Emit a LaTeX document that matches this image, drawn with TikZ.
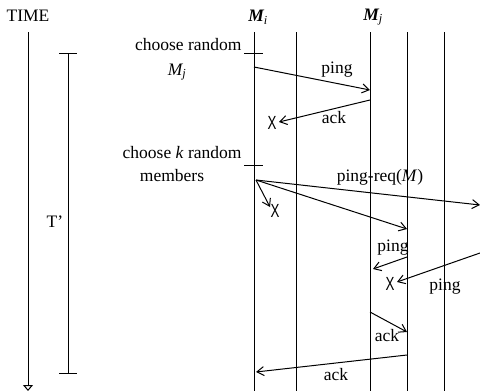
\documentclass[tikz,border=0pt]{standalone}
\usepackage{fontspec}
\setmainfont{Liberation Serif}
\newfontfamily\xfont[FakeStretch=0.7]{Liberation Sans}
\usetikzlibrary{arrows.meta}
\begin{document}
\begin{tikzpicture}[x=1pt,y=-1pt,line width=1pt,
  lbl/.style={font=\fontsize{17.5}{20}\selectfont,inner sep=0pt},
  msg/.style={-{Straight Barb[length=7pt,width=9pt]}},
  cross/.style={font=\fontsize{19}{20}\selectfont,inner sep=0pt},
  life/.style={line width=1pt}]
\useasboundingbox (0,0) rectangle (480,391);
% lifelines
\foreach \n/\x in {a/254,b/296,c/370,d/407,e/444}{
  \coordinate (\n top) at (\x,32);
  \coordinate (\n bot) at (\x,391);
  \draw[life] (\n top) -- (\n bot);
}
% time axis
\coordinate (ttop) at (28,32);
\coordinate (tbot) at (28,391);
\draw[-{Triangle[open,length=6pt,width=10pt]}] (ttop) -- (tbot);
\node[lbl] (time) at (28,16) {TIME};
% T' bracket
\coordinate (tp1) at (68,53);
\coordinate (tp2) at (68,373);
\draw (tp1) -- (tp2);
\draw (59,53) -- (77,53);
\draw (59,373) -- (77,373);
\node[lbl] (tprime) at (55,222) {T’};
% headers
\node[lbl] (mi) at (258,17) {{\bfseries\itshape M}\textsubscript{\itshape i}};
\node[lbl] (mj) at (373,17) {{\bfseries\itshape M}\textsubscript{\itshape j}};
% ticks on Mi
\draw (244,53) -- (263,53);
\draw (244,165) -- (263,165);
\node[lbl,anchor=east] (ch1) at (242,45) {choose random};
\node[lbl] (ch1b) at (177,72) {{\itshape M}\textsubscript{\itshape j}};
\node[lbl,anchor=east] (ch2) at (242,153) {choose \textit{k} random};
\node[lbl] (ch2b) at (172,176) {members};
% first probe
\coordinate (p1s) at (254,67);
\coordinate (p1e) at (370,90);
\draw[msg] (p1s) -- (p1e);
\node[lbl] (l1) at (337,70) {ping};
\coordinate (a1s) at (370,100);
\coordinate (a1e) at (279,122);
\draw[msg] (a1s) -- (a1e);
\node[cross] (x1) at (272,123) {\xfont X};
\node[lbl] (l2) at (334,118) {ack};
% ping-req
\coordinate (rs) at (256,180);
\coordinate (r1) at (270,207);
\coordinate (r2) at (480,205);
\coordinate (r3) at (407,229);
\draw[msg] (rs) -- (r1);
\node[cross] (x2) at (275,211) {\xfont X};
\draw[msg] (rs) -- (r2);
\draw[msg] (rs) -- (r3);
\node[lbl] (l3) at (380,177) {ping-req(\textit{M})};
% indirect pings
\coordinate (q1s) at (407,257);
\coordinate (q1e) at (373,269);
\draw[msg] (q1s) -- (q1e);
\node[lbl] (l4) at (393,248) {ping};
\coordinate (q2s) at (480,253);
\coordinate (q2e) at (397,282);
\draw[msg] (q2s) -- (q2e);
\node[cross] (x3) at (390,284) {\xfont X};
\node[lbl] (l5) at (445,287) {ping};
% acks
\coordinate (b1s) at (370,312);
\coordinate (b1e) at (407,332);
\draw[msg] (b1s) -- (b1e);
\node[lbl] (l6) at (387,336) {ack};
\coordinate (b2s) at (407,355);
\coordinate (b2e) at (256,372);
\draw[msg] (b2s) -- (b2e);
\node[lbl] (l7) at (336,375) {ack};
\end{tikzpicture}
\end{document}
